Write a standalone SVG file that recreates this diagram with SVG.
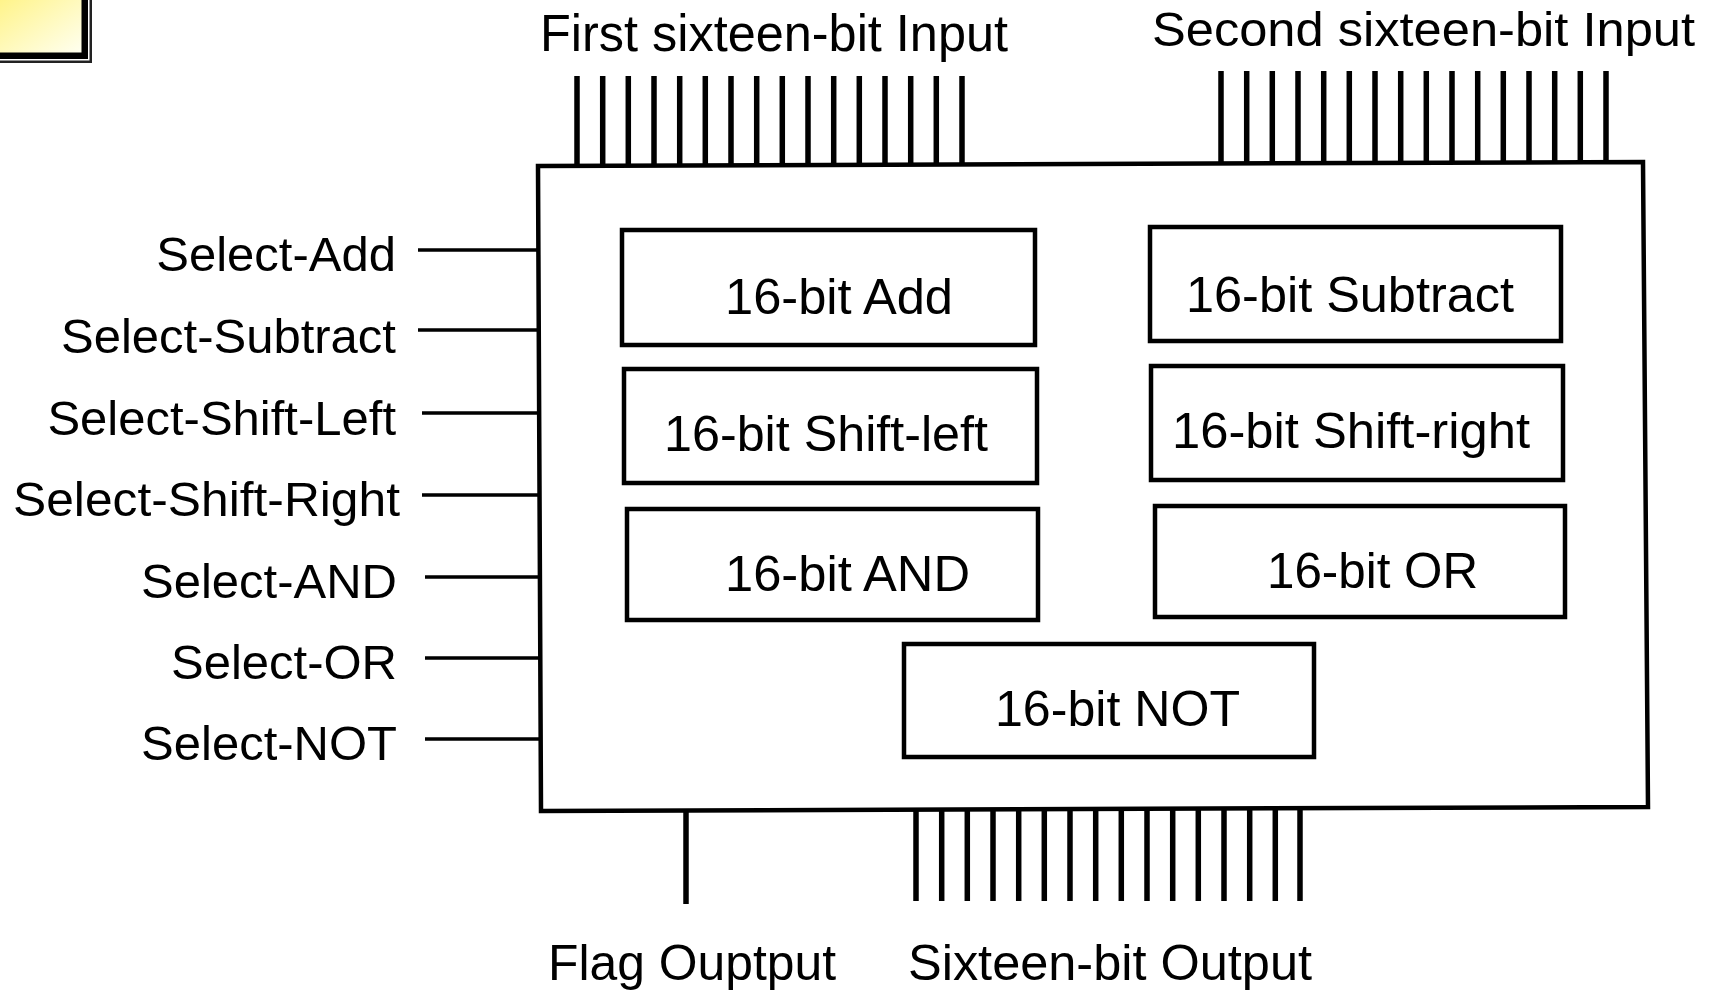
<svg xmlns="http://www.w3.org/2000/svg" width="1717" height="992" viewBox="0 0 1717 992">
<defs>
<linearGradient id="yg" x1="0" y1="0" x2="1" y2="1">
<stop offset="0" stop-color="#fff27a"/>
<stop offset="1" stop-color="#fffff0"/>
</linearGradient>
<style>
text{font-family:"Liberation Sans",Arial,sans-serif;fill:#000}
.lbl{font-size:49px;text-anchor:end}
.box{fill:#fff;stroke:#000;stroke-width:4.5}
.bl{font-size:50px}
.wire{stroke:#000;stroke-width:5.5;fill:none}
.sel{stroke:#000;stroke-width:3.5;fill:none}
</style>
</defs>
<rect width="1717" height="992" fill="#fff"/>
<g id="corner">
<rect x="-10" y="-10" width="102" height="73" fill="#222"/>
<rect x="-10" y="-10" width="99.5" height="70.5" fill="#fff"/>
<rect x="-10" y="-10" width="98" height="69" fill="#000"/>
<rect x="-10" y="-10" width="91.5" height="62.5" fill="url(#yg)"/>
</g>
<g id="alu">
<polygon points="538,166 1643,162 1648,807 541,811" fill="#fff" stroke="#000" stroke-width="4.5"/>
</g>
<g id="add"><rect class="box" x="622" y="230" width="413" height="115"/><text class="bl" x="725" y="314" textLength="228" lengthAdjust="spacingAndGlyphs">16-bit Add</text></g>
<g id="subtract"><rect class="box" x="1150" y="227" width="411" height="114"/><text class="bl" x="1186" y="312" textLength="328" lengthAdjust="spacingAndGlyphs">16-bit Subtract</text></g>
<g id="shift-left"><rect class="box" x="624" y="369" width="413" height="114"/><text class="bl" x="664" y="451" textLength="324" lengthAdjust="spacingAndGlyphs">16-bit Shift-left</text></g>
<g id="shift-right"><rect class="box" x="1151" y="366" width="412" height="114"/><text class="bl" x="1172" y="448" textLength="358" lengthAdjust="spacingAndGlyphs">16-bit Shift-right</text></g>
<g id="and"><rect class="box" x="627" y="509" width="411" height="111"/><text class="bl" x="725" y="591" textLength="245" lengthAdjust="spacingAndGlyphs">16-bit AND</text></g>
<g id="or"><rect class="box" x="1155" y="506" width="410" height="111"/><text class="bl" x="1267" y="588" textLength="211" lengthAdjust="spacingAndGlyphs">16-bit OR</text></g>
<g id="not"><rect class="box" x="904" y="644" width="410" height="113"/><text class="bl" x="995" y="726" textLength="245" lengthAdjust="spacingAndGlyphs">16-bit NOT</text></g>
<g id="labels">
<text x="540" y="51" font-size="52" textLength="468" lengthAdjust="spacingAndGlyphs">First sixteen-bit Input</text>
<text x="1152" y="46" font-size="49" textLength="543" lengthAdjust="spacingAndGlyphs">Second sixteen-bit Input</text>
<text class="lbl" x="396" y="271">Select-Add</text>
<text class="lbl" x="396" y="353">Select-Subtract</text>
<text class="lbl" x="396" y="435">Select-Shift-Left</text>
<text class="lbl" x="400" y="516" textLength="387" lengthAdjust="spacingAndGlyphs">Select-Shift-Right</text>
<text class="lbl" x="397" y="598">Select-AND</text>
<text class="lbl" x="397" y="679">Select-OR</text>
<text class="lbl" x="397" y="760">Select-NOT</text>
<text x="548" y="980" font-size="50" textLength="288" lengthAdjust="spacingAndGlyphs">Flag Ouptput</text>
<text x="908" y="980" font-size="50" textLength="404" lengthAdjust="spacingAndGlyphs">Sixteen-bit Output</text>
</g>
<g id="connectors">
<path class="wire" d="M577,76V166M602.7,76V166M628.3,76V166M654,76V166M679.7,76V166M705.3,76V166M731,76V166M756.7,76V166M782.3,76V166M808,76V166M833.7,76V166M859.3,76V166M885,76V166M910.7,76V166M936.3,76V166M962,76V166"/>
<path class="wire" d="M1221,71V163M1246.7,71V163M1272.3,71V163M1298,71V163M1323.7,71V163M1349.3,71V163M1375,71V163M1400.7,71V163M1426.3,71V163M1452,71V163M1477.7,71V163M1503.3,71V163M1529,71V163M1554.7,71V163M1580.3,71V163M1606,71V163"/>
<path class="sel" stroke-width="5" d="M418,250H538"/>
<path class="sel" d="M418,330H539M422,413H539M422,495H539M425,577H540M425,658H540M425,739H541"/>
<path class="wire" d="M686,810V904"/>
<path class="wire" d="M916,810V901M941.7,810V901M967.3,810V901M993,810V901M1018.7,810V901M1044.3,810V901M1070,810V901M1095.7,810V901M1121.3,810V901M1147,810V901M1172.7,810V901M1198.3,810V901M1224,810V901M1249.7,810V901M1275.3,810V901M1300,810V901"/>
</g>
</svg>
